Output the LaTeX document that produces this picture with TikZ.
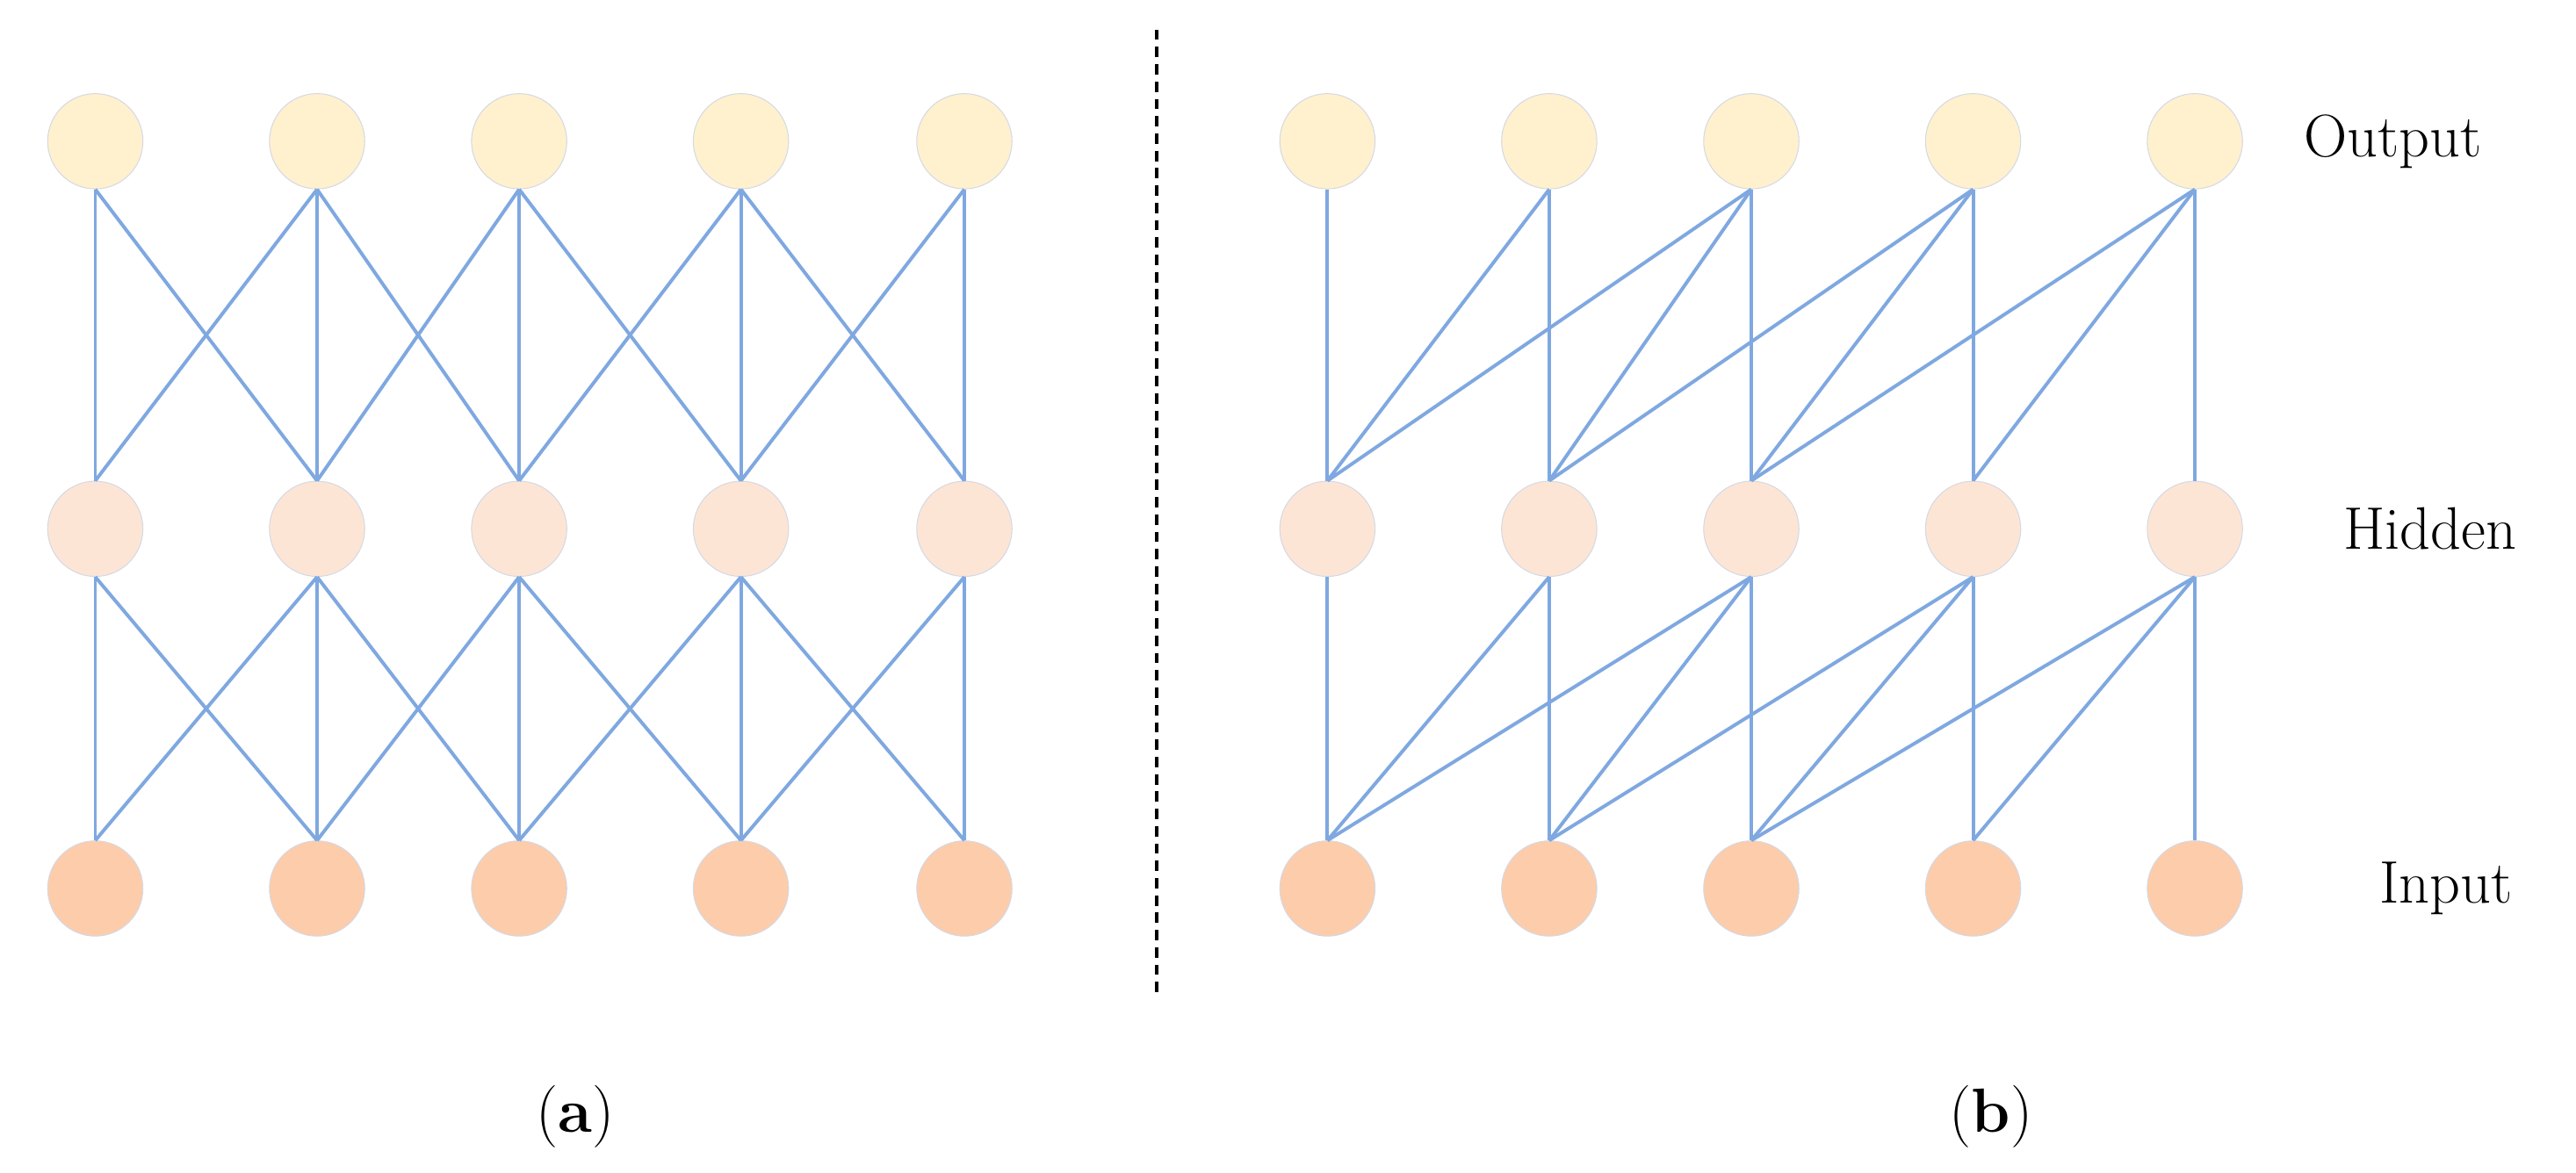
\documentclass[tikz,border=0pt]{standalone}
\usepackage{xcolor}
\usepackage{tikz}
\usetikzlibrary{positioning}
\definecolor{outfill}{HTML}{FFF1CE}
\definecolor{hidfill}{HTML}{FDE5D6}
\definecolor{infill}{HTML}{FDCCAA}
\definecolor{edgeblue}{HTML}{7FA8E0}
\definecolor{rimgray}{HTML}{D5D9E3}

\begin{document}
\begin{tikzpicture}[x=0.05cm, y=-0.05cm]
    % Styles
    \tikzstyle{unit} = [circle, draw=rimgray, line width=0.8pt, minimum size=2.9cm, inner sep=0pt]
    \tikzstyle{link} = [draw=edgeblue, line width=3pt]
    \tikzstyle{layer} = [font=\fontsize{52}{60}\selectfont, anchor=west]
    \tikzstyle{caption} = [font=\fontsize{54}{62}\selectfont]

    \useasboundingbox (0,0) rectangle (1568,714);

    % Nodes, panel (a) and panel (b)
    \foreach \i/\xa/\xb in {1/58/808, 2/193/943, 3/316/1066, 4/451/1201, 5/587/1336} {
        \node[unit, fill=outfill] (ao\i) at (\xa,86) {};
        \node[unit, fill=hidfill] (ah\i) at (\xa,322) {};
        \node[unit, fill=infill] (ai\i) at (\xa,541) {};
        \node[unit, fill=outfill] (bo\i) at (\xb,86) {};
        \node[unit, fill=hidfill] (bh\i) at (\xb,322) {};
        \node[unit, fill=infill] (bi\i) at (\xb,541) {};
    }

    % Links (a): neighbours
    \foreach \i in {1,...,5} {
        \draw[link] (ah\i.north) -- (ao\i.south);
        \draw[link] (ai\i.north) -- (ah\i.south);
    }
    \foreach \i/\j in {1/2, 2/3, 3/4, 4/5} {
        \draw[link] (ah\i.north) -- (ao\j.south);
        \draw[link] (ah\j.north) -- (ao\i.south);
        \draw[link] (ai\i.north) -- (ah\j.south);
        \draw[link] (ai\j.north) -- (ah\i.south);
    }

    % Links (b): causal, three wide
    \foreach \i in {1,...,5} {
        \draw[link] (bh\i.north) -- (bo\i.south);
        \draw[link] (bi\i.north) -- (bh\i.south);
    }
    \foreach \i/\j in {1/2, 2/3, 3/4, 4/5, 1/3, 2/4, 3/5} {
        \draw[link] (bh\i.north) -- (bo\j.south);
        \draw[link] (bi\i.north) -- (bh\j.south);
    }

    % Divider
    \coordinate (top) at (704,18);
    \coordinate (bot) at (704,606);
    \draw[line width=3pt, dash pattern=on 9pt off 6pt] (top) -- (bot);

    % Labels
    \node[layer] (lo) at (1400,86) {Output};
    \node[layer] (lh) at (1424,322) {Hidden};
    \node[layer] (li) at (1446,541) {Input};
    \node[caption] (ca) at (350,680) {(\textbf{a})};
    \node[caption] (cb) at (1212,680) {(\textbf{b})};
\end{tikzpicture}
\end{document}
